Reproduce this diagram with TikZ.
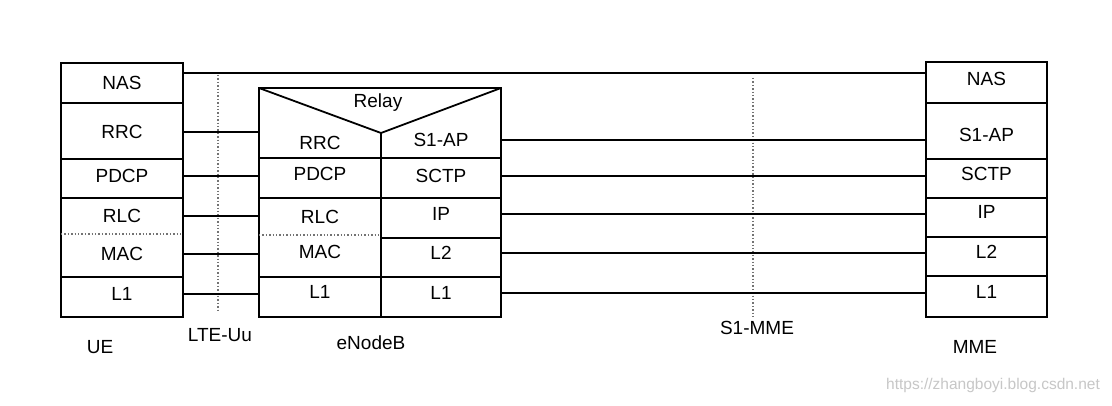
\documentclass[tikz,border=0pt]{standalone}
\usepackage{fontspec}
\setmainfont{Liberation Sans}
\begin{document}
\begin{tikzpicture}[x=1pt,y=-1pt,line width=1.8pt,
	lay/.style={inner sep=0pt,font=\fontsize{19}{23}\selectfont},
	dots/.style={black!55,dotted,line width=1.4pt}]
	\fill[white] (0,0) rectangle (1112,406);
	% UE stack
	\draw (61,63) rectangle (183,317);
	\draw (61,103)--(183,103) (61,159)--(183,159) (61,198)--(183,198) (61,277)--(183,277);
	\draw[dots] (61,234)--(183,234);
	\node[lay,minimum width=122pt] (uenas)  at (122,83)  {NAS};
	\node[lay,minimum width=122pt] (uerrc)  at (122,132) {RRC};
	\node[lay,minimum width=122pt] (uepdcp) at (122,176) {PDCP};
	\node[lay,minimum width=122pt] (uerlc)  at (122,216) {RLC};
	\node[lay,minimum width=122pt] (uemac)  at (122,254) {MAC};
	\node[lay,minimum width=122pt] (uel1)   at (122,294) {L1};
	% eNodeB stack
	\draw (259,88) rectangle (501,317);
	\draw (259,88)--(381,133)--(501,88);
	\draw (381,133)--(381,317);
	\draw (259,158)--(501,158) (259,198)--(501,198) (259,277)--(501,277) (381,238)--(501,238);
	\draw[dots] (259,235)--(381,235);
	\node[lay] (relay) at (378,103) {Relay};
	\node[lay,minimum width=122pt] (enbrrc)  at (320,143) {RRC};
	\node[lay,minimum width=122pt] (enbpdcp) at (320,174) {PDCP};
	\node[lay,minimum width=122pt] (enbrlc)  at (320,217) {RLC};
	\node[lay,minimum width=122pt] (enbmac)  at (320,252) {MAC};
	\node[lay,minimum width=122pt] (enbl1)   at (320,292) {L1};
	\node[lay,minimum width=120pt] (enbs1ap) at (441,140) {S1-AP};
	\node[lay,minimum width=120pt] (enbsctp) at (441,176) {SCTP};
	\node[lay,minimum width=120pt] (enbip)   at (441,214) {IP};
	\node[lay,minimum width=120pt] (enbltwo) at (441,253) {L2};
	\node[lay,minimum width=120pt] (enblone) at (441,293) {L1};
	% MME stack
	\draw (926,62) rectangle (1047,317);
	\draw (926,103)--(1047,103) (926,159)--(1047,159) (926,198)--(1047,198) (926,237)--(1047,237) (926,276)--(1047,276);
	\node[lay,minimum width=121pt] (mmenas)  at (986.5,79)  {NAS};
	\node[lay,minimum width=121pt] (mmes1ap) at (986.5,135) {S1-AP};
	\node[lay,minimum width=121pt] (mmesctp) at (986.5,174) {SCTP};
	\node[lay,minimum width=121pt] (mmeip)   at (986.5,212) {IP};
	\node[lay,minimum width=121pt] (mmeltwo) at (986.5,252) {L2};
	\node[lay,minimum width=121pt] (mmel1)   at (986.5,292) {L1};
	% reference points
	\draw[dots] (218,75)--(218,312);
	\draw[dots] (753,78)--(753,318);
	% peer links
	\draw ([yshift=10pt]uenas.east) -- ([yshift=10pt]uenas.east -| mmenas.west);
	\draw (uerrc.east)  -- (uerrc.east -| enbrrc.west);
	\draw (uepdcp.east) -- (uepdcp.east -| enbpdcp.west);
	\draw (uerlc.east)  -- (uerlc.east -| enbrlc.west);
	\draw (uemac.east)  -- (uemac.east -| enbmac.west);
	\draw (uel1.east)   -- (uel1.east -| enbl1.west);
	\draw (enbs1ap.east) -- (enbs1ap.east -| mmes1ap.west);
	\draw (enbsctp.east) -- (enbsctp.east -| mmesctp.west);
	\draw (enbip.east)   -- (enbip.east -| mmeip.west);
	\draw (enbltwo.east) -- (enbltwo.east -| mmeltwo.west);
	\draw (enblone.east) -- (enblone.east -| mmel1.west);
	% labels
	\node[lay] (ue)    at (100,347) {UE};
	\node[lay] (lteuu) at (220,335) {LTE-Uu};
	\node[lay] (enb)   at (371,343) {eNodeB};
	\node[lay] (s1mme) at (757,328) {S1-MME};
	\node[lay] (mme)   at (975,347) {MME};
	\node[lay,font=\fontsize{15.5}{17}\selectfont,text=black!22] (mark) at (993,385) {https://zhangboyi.blog.csdn.net};
\end{tikzpicture}
\end{document}
